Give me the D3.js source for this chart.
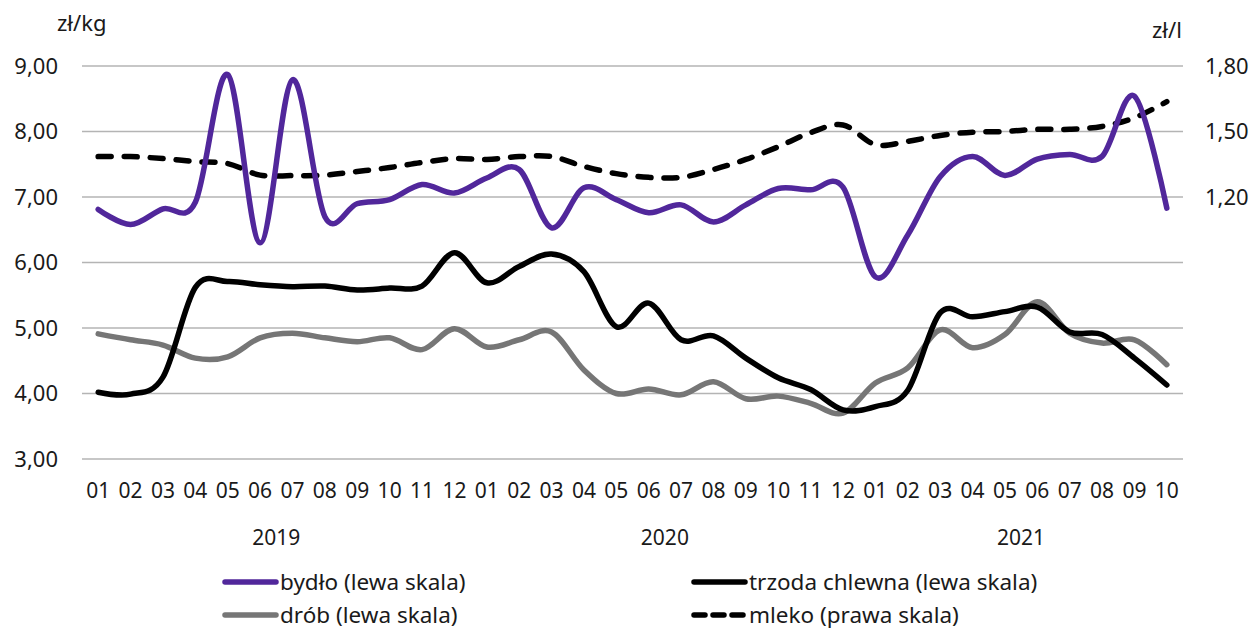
<!DOCTYPE html>
<html lang="pl">
<head>
    <meta charset="UTF-8">
    <title>Ceny skupu</title>
    <script src="https://d3js.org/d3.v7.min.js"></script>
    <style>
        body { margin: 0; background: #fff; }
        text { font-family: "Noto Sans", sans-serif; fill: #1a1a1a; }
        .grid line { stroke: #b4b4b4; stroke-width: 1.5px; }
        .series { fill: none; stroke-linecap: round; stroke-linejoin: round; }
    </style>
</head>
<body>

<svg width="1253" height="629"></svg>

<script>
    // Months Jan 2019 - Oct 2021
    const months = ["01","02","03","04","05","06","07","08","09","10","11","12",
                    "01","02","03","04","05","06","07","08","09","10","11","12",
                    "01","02","03","04","05","06","07","08","09","10"];
    const years = [
        { label: "2019", from: 0, to: 11 },
        { label: "2020", from: 12, to: 23 },
        { label: "2021", from: 24, to: 33 }
    ];

    // zł/kg (left scale)
    const bydlo = [6.81, 6.58, 6.82, 6.92, 8.87, 6.30, 8.79, 6.70, 6.90, 6.96, 7.19, 7.06,
                   7.29, 7.42, 6.53, 7.14, 6.96, 6.76, 6.88, 6.62, 6.88, 7.13, 7.11, 7.15,
                   5.78, 6.42, 7.31, 7.62, 7.33, 7.58, 7.65, 7.62, 8.54, 6.83];
    const trzoda = [4.02, 3.99, 4.25, 5.62, 5.71, 5.66, 5.63, 5.64, 5.58, 5.61, 5.64, 6.15,
                    5.69, 5.94, 6.13, 5.86, 5.02, 5.38, 4.82, 4.88, 4.54, 4.24, 4.06, 3.75,
                    3.80, 4.05, 5.23, 5.17, 5.25, 5.32, 4.94, 4.90, 4.54, 4.13];
    const drob = [4.91, 4.82, 4.74, 4.54, 4.56, 4.85, 4.92, 4.85, 4.79, 4.85, 4.67, 4.99,
                  4.71, 4.82, 4.94, 4.36, 4.00, 4.07, 3.98, 4.18, 3.92, 3.96, 3.85, 3.70,
                  4.16, 4.39, 4.97, 4.70, 4.90, 5.40, 4.92, 4.77, 4.82, 4.44];
    // zł/l (right scale)
    const mleko = [1.385, 1.385, 1.376, 1.362, 1.353, 1.300, 1.298, 1.300, 1.317, 1.335, 1.358, 1.376,
                   1.372, 1.385, 1.385, 1.340, 1.307, 1.290, 1.290, 1.326, 1.372, 1.430, 1.495, 1.530,
                   1.440, 1.455, 1.482, 1.497, 1.500, 1.510, 1.510, 1.523, 1.563, 1.637];

    const leftTicks = [3, 4, 5, 6, 7, 8, 9];
    const rightTicks = [1.2, 1.5, 1.8];

    const svg = d3.select("svg");
    const plotTop = 66, plotBottom = 459, plotLeft = 82, plotRight = 1183;

    const x = d3.scaleBand().domain(d3.range(months.length)).range([plotLeft, plotRight]);
    const xc = i => x(i) + x.bandwidth() / 2;
    const yL = d3.scaleLinear().domain([3, 9]).range([plotBottom, plotTop]);
    const yR = d3.scaleLinear().domain([0, 1.8]).range([plotBottom, plotTop]);
    const fmt = v => d3.format(".2f")(v).replace(".", ",");

    // gridlines
    svg.append("g").attr("class", "grid")
        .selectAll("line").data(leftTicks).enter().append("line")
        .attr("x1", plotLeft).attr("x2", plotRight)
        .attr("y1", d => yL(d)).attr("y2", d => yL(d));

    // left axis
    const axL = svg.append("g").attr("transform", `translate(${plotLeft - 24},0)`)
        .call(d3.axisLeft(yL).tickValues(leftTicks).tickFormat(fmt).tickSize(0).tickPadding(0));
    axL.select(".domain").remove();
    axL.selectAll("text").attr("font-size", "22px").attr("font-family", null).attr("fill", "#1a1a1a");

    // right axis
    const axR = svg.append("g").attr("transform", `translate(${plotRight + 22},0)`)
        .call(d3.axisRight(yR).tickValues(rightTicks).tickFormat(fmt).tickSize(0).tickPadding(0));
    axR.select(".domain").remove();
    axR.selectAll("text").attr("font-size", "22px").attr("font-family", null).attr("fill", "#1a1a1a");

    svg.append("text").attr("x", 57).attr("y", 31).attr("font-size", "22px").text("zł/kg");
    svg.append("text").attr("x", 1152).attr("y", 38).attr("font-size", "22px").text("zł/l");

    // month labels
    const axX = svg.append("g").attr("transform", `translate(0,${plotBottom + 24})`)
        .call(d3.axisBottom(x).tickFormat(i => months[i]).tickSize(0).tickPadding(0));
    axX.select(".domain").remove();
    axX.selectAll("text").attr("font-size", "21px").attr("font-family", null).attr("fill", "#1a1a1a");

    // year labels
    svg.selectAll(".year").data(years).enter().append("text")
        .attr("x", d => (xc(d.from) + xc(d.to)) / 2)
        .attr("y", 545)
        .attr("text-anchor", "middle")
        .attr("font-size", "21px")
        .text(d => d.label);

    const curve = d3.curveCardinal.tension(0);
    const lineL = d3.line().x((d, i) => xc(i)).y(d => yL(d)).curve(curve);
    const lineR = d3.line().x((d, i) => xc(i)).y(d => yR(d)).curve(curve);

    const series = [
        { data: mleko, line: lineR, color: "#000", dash: "13,13" },
        { data: drob, line: lineL, color: "#767676", dash: null },
        { data: trzoda, line: lineL, color: "#000", dash: null },
        { data: bydlo, line: lineL, color: "#51279b", dash: null }
    ];
    series.forEach(s => {
        svg.append("path").attr("class", "series")
            .attr("d", s.line(s.data))
            .attr("stroke", s.color)
            .attr("stroke-width", 5.5)
            .attr("stroke-dasharray", s.dash);
    });

    // legend
    const legend = [
        { label: "bydło (lewa skala)", color: "#51279b", dash: null, x: 225, y: 582 },
        { label: "trzoda chlewna (lewa skala)", color: "#000", dash: null, x: 694, y: 582 },
        { label: "drób (lewa skala)", color: "#767676", dash: null, x: 225, y: 615 },
        { label: "mleko (prawa skala)", color: "#000", dash: "11,8", x: 694, y: 615 }
    ];
    const lg = svg.selectAll(".lg").data(legend).enter().append("g")
        .attr("transform", d => `translate(${d.x},${d.y})`);
    lg.append("line")
        .attr("x1", 0).attr("x2", 51).attr("y1", 0).attr("y2", 0)
        .attr("stroke", d => d.color).attr("stroke-width", 5.5)
        .attr("stroke-linecap", "round")
        .attr("stroke-dasharray", d => d.dash);
    lg.append("text").attr("x", 55).attr("y", 8).attr("font-size", "22.5px").text(d => d.label);
</script>

</body>
</html>
